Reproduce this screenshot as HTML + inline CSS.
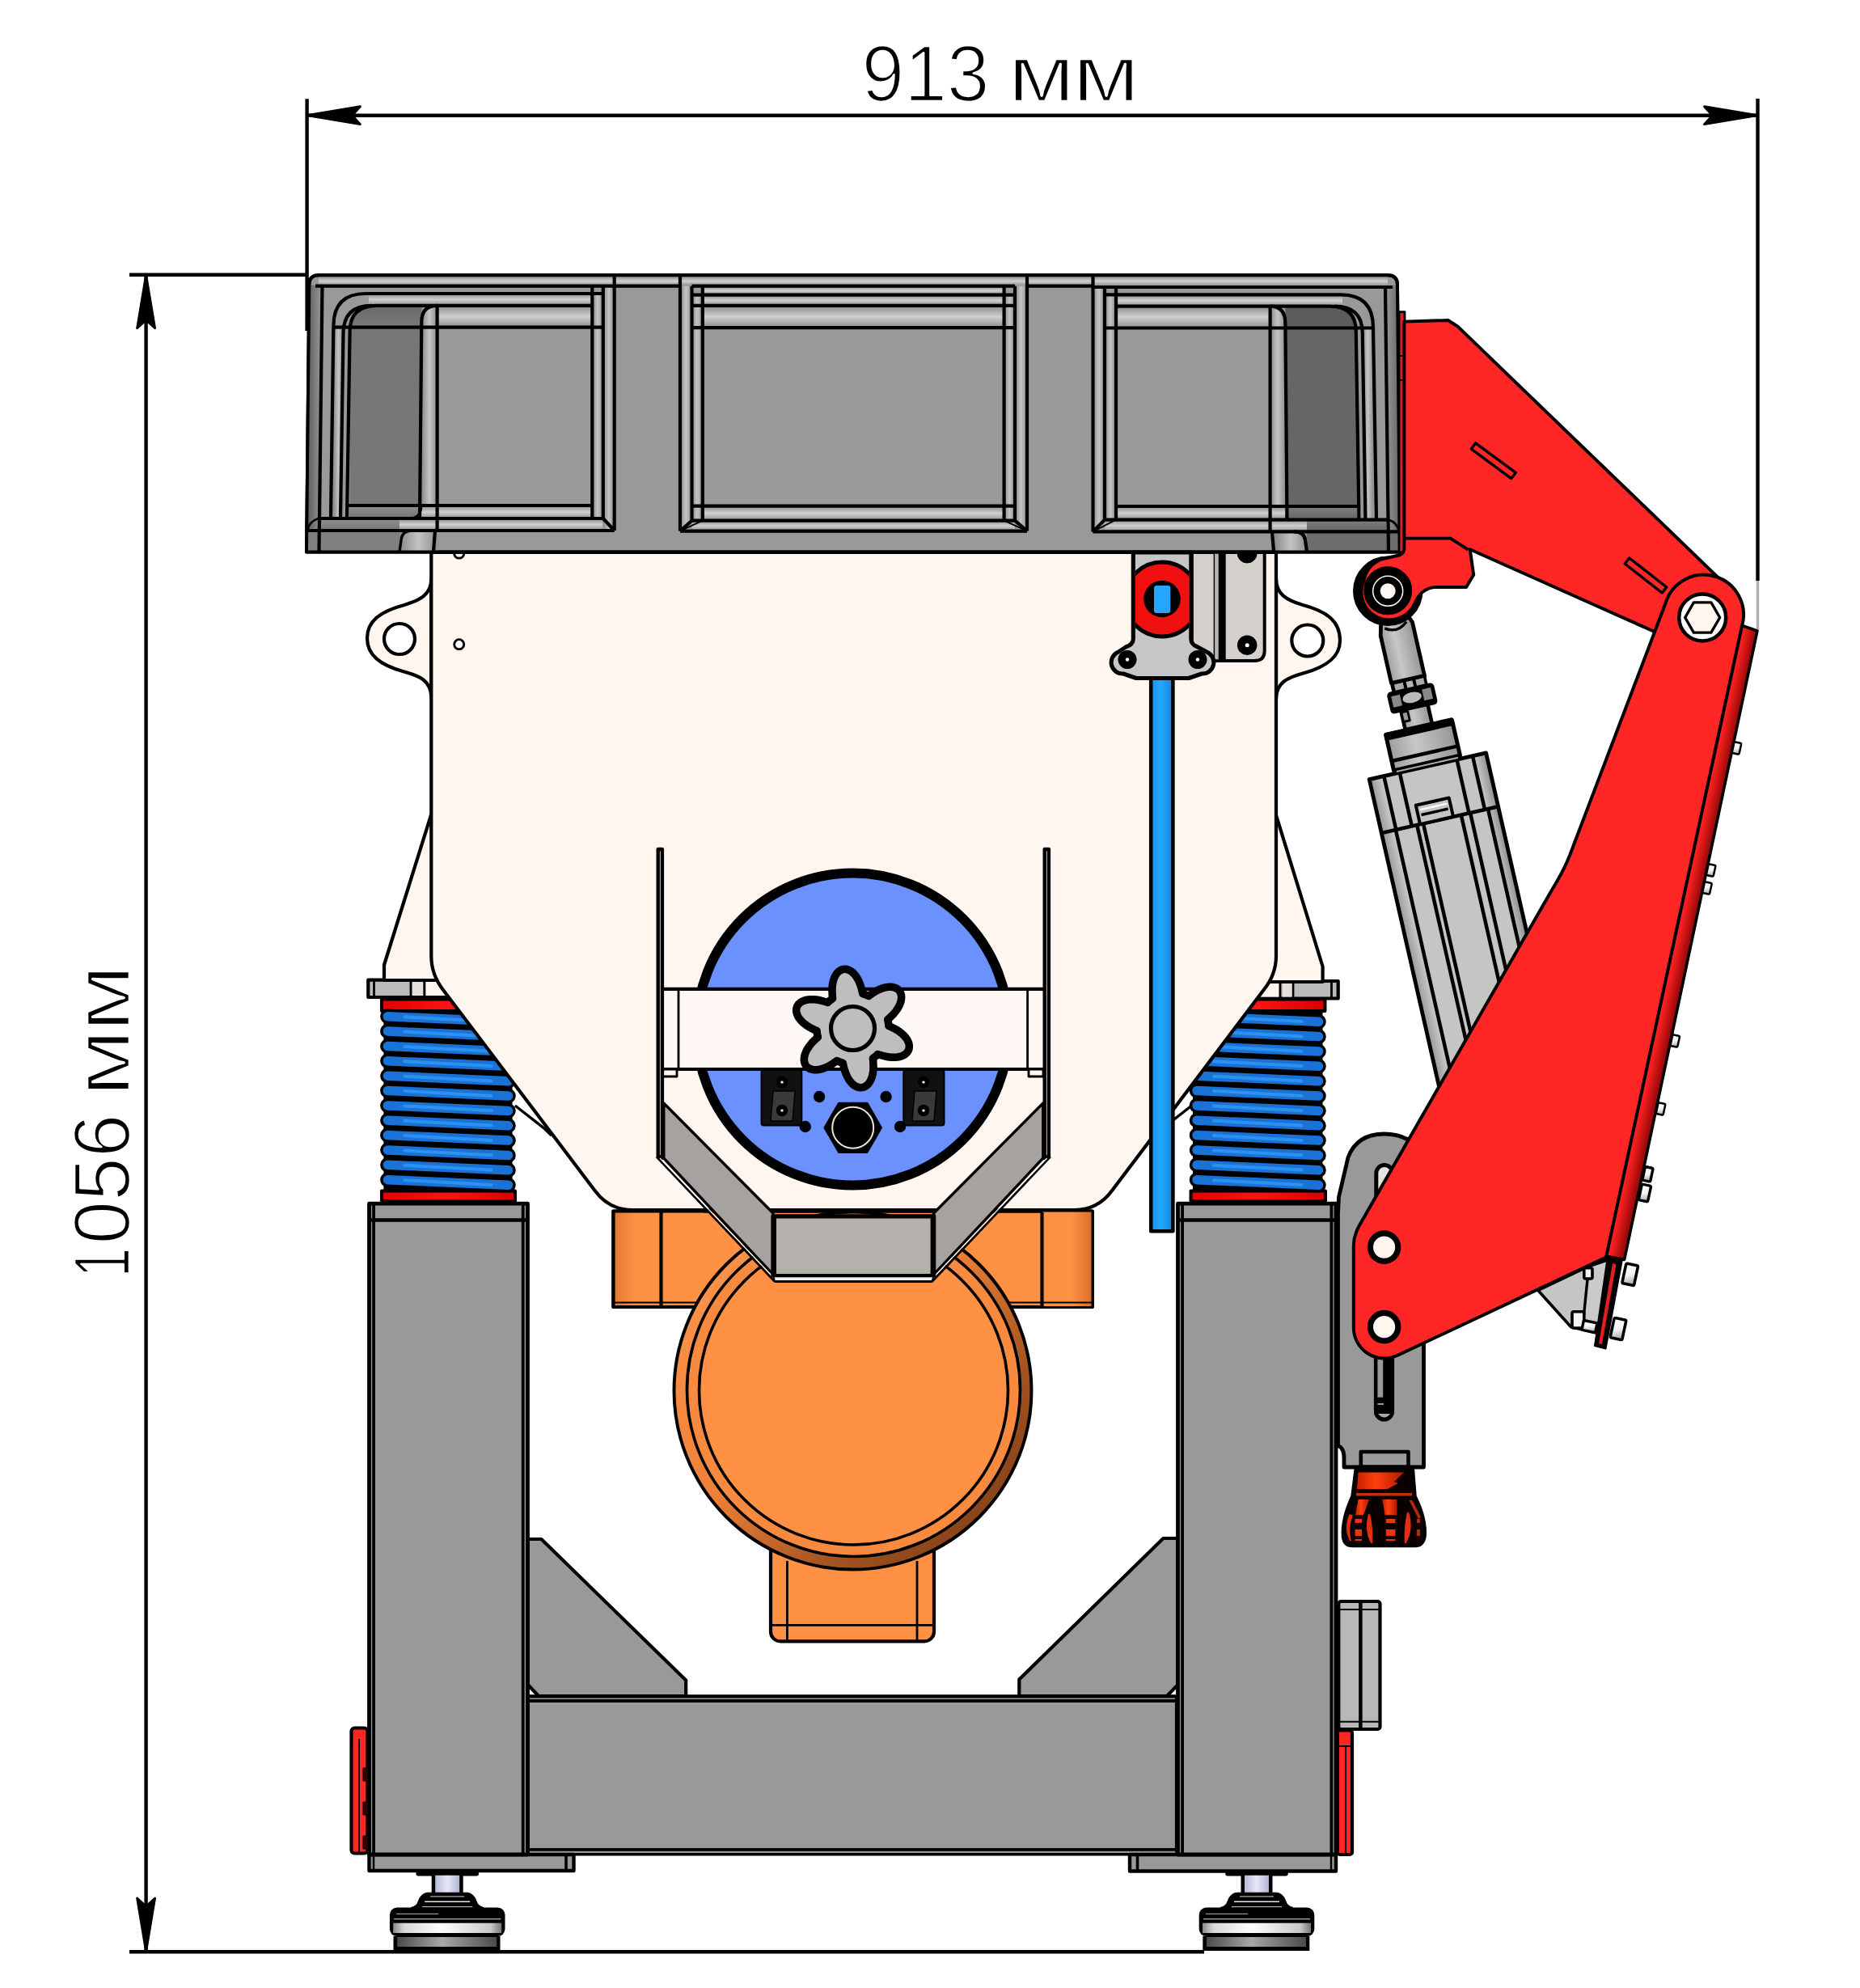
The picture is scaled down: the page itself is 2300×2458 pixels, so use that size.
<!DOCTYPE html>
<html lang="ru"><head><meta charset="utf-8"><title>913 мм × 1056 мм</title><style>html,body{margin:0;padding:0;background:#fff}body{width:2300px;height:2458px;overflow:hidden}svg{display:block}text{font-family:"Liberation Sans",sans-serif;fill:#000}</style></head><body>
<svg width="2300" height="2458" viewBox="0 0 2300 2458" stroke-linejoin="round" stroke-linecap="butt"><defs><linearGradient id="gH" x1="0" y1="0" x2="0" y2="1" gradientUnits="objectBoundingBox"><stop offset="0" stop-color="#8a8a8a"/><stop offset="0.5" stop-color="#cfcfcf"/><stop offset="1" stop-color="#8f8f8f"/></linearGradient><linearGradient id="gV" x1="0" y1="0" x2="1" y2="0" gradientUnits="objectBoundingBox"><stop offset="0" stop-color="#8a8a8a"/><stop offset="0.5" stop-color="#c4c4c4"/><stop offset="1" stop-color="#8f8f8f"/></linearGradient><linearGradient id="gDarkTop" x1="0" y1="0" x2="0" y2="1" gradientUnits="objectBoundingBox"><stop offset="0" stop-color="#6a6a6a"/><stop offset="1" stop-color="#7c7c7c"/></linearGradient><linearGradient id="gEdgeL" x1="0" y1="0" x2="1" y2="0" gradientUnits="objectBoundingBox"><stop offset="0" stop-color="#5e5e5e"/><stop offset="1" stop-color="#9a9a9a"/></linearGradient><linearGradient id="gEdgeR" x1="0" y1="0" x2="1" y2="0" gradientUnits="objectBoundingBox"><stop offset="0" stop-color="#9a9a9a"/><stop offset="1" stop-color="#666"/></linearGradient><linearGradient id="gOrFoot" x1="0" y1="0" x2="1" y2="0" gradientUnits="objectBoundingBox"><stop offset="0" stop-color="#E07A30"/><stop offset="0.25" stop-color="#FF9144"/><stop offset="1" stop-color="#FF9144"/></linearGradient><linearGradient id="gOrFootR" x1="0" y1="0" x2="1" y2="0" gradientUnits="objectBoundingBox"><stop offset="0" stop-color="#FF9144"/><stop offset="0.6" stop-color="#FF9144"/><stop offset="1" stop-color="#D9702A"/></linearGradient><linearGradient id="gTube" x1="0" y1="0" x2="1" y2="0" gradientUnits="objectBoundingBox"><stop offset="0" stop-color="#1690EE"/><stop offset="0.45" stop-color="#25AAFF"/><stop offset="1" stop-color="#0E86E0"/></linearGradient><linearGradient id="gRedRing" x1="0" y1="0" x2="1" y2="0" gradientUnits="objectBoundingBox"><stop offset="0" stop-color="#E00000"/><stop offset="0.5" stop-color="#FF1212"/><stop offset="1" stop-color="#D80000"/></linearGradient><linearGradient id="gCyl" x1="0" y1="0" x2="1" y2="0" gradientUnits="objectBoundingBox"><stop offset="0" stop-color="#9c9e9c"/><stop offset="0.4" stop-color="#c6c8c6"/><stop offset="1" stop-color="#949694"/></linearGradient><linearGradient id="gDisk" x1="0" y1="0" x2="1" y2="0" gradientUnits="objectBoundingBox"><stop offset="0" stop-color="#8a8a8a"/><stop offset="0.1" stop-color="#d8d8d8"/><stop offset="0.45" stop-color="#fff"/><stop offset="0.9" stop-color="#c8c8c8"/><stop offset="1" stop-color="#777"/></linearGradient><linearGradient id="gDisk2" x1="0" y1="0" x2="1" y2="0" gradientUnits="objectBoundingBox"><stop offset="0" stop-color="#4a4a4a"/><stop offset="0.45" stop-color="#a8a8a8"/><stop offset="1" stop-color="#4a4a4a"/></linearGradient><linearGradient id="gStud" x1="0" y1="0" x2="1" y2="0" gradientUnits="objectBoundingBox"><stop offset="0" stop-color="#b8bcd8"/><stop offset="0.5" stop-color="#e6e8fa"/><stop offset="1" stop-color="#b0b4d0"/></linearGradient><linearGradient id="gPanel" x1="0" y1="0" x2="1" y2="0" gradientUnits="objectBoundingBox"><stop offset="0" stop-color="#FF2626"/><stop offset="1" stop-color="#D81414"/></linearGradient><linearGradient id="gKnob" x1="0" y1="0" x2="1" y2="0" gradientUnits="objectBoundingBox"><stop offset="0" stop-color="#C82000"/><stop offset="0.4" stop-color="#FF4010"/><stop offset="1" stop-color="#B01800"/></linearGradient><linearGradient id="gRim" x1="0" y1="0" x2="1" y2="1" gradientUnits="objectBoundingBox"><stop offset="0" stop-color="#FF9A50"/><stop offset="0.45" stop-color="#EE8038"/><stop offset="0.72" stop-color="#A0521F"/><stop offset="1" stop-color="#6E3510"/></linearGradient><linearGradient id="gDk1" x1="0" y1="0" x2="0" y2="1" gradientUnits="objectBoundingBox"><stop offset="0" stop-color="#8e8e8e"/><stop offset="1" stop-color="#747474"/></linearGradient><linearGradient id="gDk3" x1="0" y1="0" x2="0" y2="1" gradientUnits="objectBoundingBox"><stop offset="0" stop-color="#7e7e7e"/><stop offset="1" stop-color="#646464"/></linearGradient><linearGradient id="gCylB" x1="0" y1="0" x2="1" y2="0" gradientUnits="objectBoundingBox"><stop offset="0" stop-color="#969896"/><stop offset="0.1" stop-color="#C4C6C4"/><stop offset="0.9" stop-color="#C4C6C4"/><stop offset="1" stop-color="#8c8e8c"/></linearGradient><linearGradient id="gPanel2" x1="2150" y1="772" x2="2171.5" y2="776.6" gradientUnits="userSpaceOnUse"><stop offset="0" stop-color="#FF2626"/><stop offset="0.4" stop-color="#F21E1E"/><stop offset="1" stop-color="#A00A0A"/></linearGradient><linearGradient id="gBolt" x1="0" y1="0" x2="0.3" y2="1" gradientUnits="objectBoundingBox"><stop offset="0" stop-color="#fff"/><stop offset="0.6" stop-color="#f4f4f4"/><stop offset="1" stop-color="#b8b8b8"/></linearGradient></defs>
<rect x="758.5" y="1497.5" width="592.2" height="118.5" rx="0" fill="#FF9144" stroke="#000" stroke-width="4.2" />
<rect x="758.5" y="1497.5" width="111.5" height="118.5" rx="0" fill="url(#gOrFoot)" stroke="none" stroke-width="0" />
<rect x="758.5" y="1497.5" width="592.2" height="118.5" rx="0" fill="none" stroke="#000" stroke-width="4.2" />
<line x1="817.5" y1="1499" x2="817.5" y2="1616" stroke="#000" stroke-width="4.2"/>
<line x1="758.5" y1="1610.5" x2="870" y2="1610.5" stroke="#000" stroke-width="2"/>
<rect x="1289" y="1498.5" width="60.5" height="116.5" rx="0" fill="url(#gOrFootR)" stroke="none" stroke-width="0" />
<line x1="1288.5" y1="1499" x2="1288.5" y2="1616" stroke="#000" stroke-width="4.2"/>
<line x1="1239" y1="1610.5" x2="1350.7" y2="1610.5" stroke="#000" stroke-width="2"/>
<rect x="953" y="1900" width="202" height="129.4" rx="12" fill="#FF9144" stroke="#000" stroke-width="4.2" />
<line x1="973.4" y1="1930" x2="973.4" y2="2028" stroke="#000" stroke-width="2.82"/>
<line x1="1134" y1="1930" x2="1134" y2="2028" stroke="#000" stroke-width="2.82"/>
<line x1="955" y1="2009.3" x2="1153" y2="2009.3" stroke="#000" stroke-width="2.82"/>
<circle cx="1054.5" cy="1719.5" r="221" fill="url(#gRim)" stroke="#000" stroke-width="3.95" />
<circle cx="1055.5" cy="1718.5" r="206" fill="#F88A40" stroke="#000" stroke-width="3.62" />
<circle cx="1055.5" cy="1719" r="191" fill="#FF9144" stroke="#000" stroke-width="3.62" />
<polygon points="652.8,1903 669.4,1903 848.2,2077.5 848.2,2097 666,2097 652.8,2083" fill="#999999" stroke="#000" stroke-width="4.2" />
<polygon points="1456.5,1902 1438.5,1902 1260.3,2076.5 1260.3,2097 1443,2097 1456.5,2083" fill="#999999" stroke="#000" stroke-width="4.2" />
<rect x="652.8" y="2097.4" width="802.2" height="189.6" rx="0" fill="#999999" stroke="#000" stroke-width="4.2" />
<line x1="652.8" y1="2103" x2="1455" y2="2103" stroke="#000" stroke-width="3.8"/>
<rect x="652.8" y="2287" width="802.2" height="5.8" rx="0" fill="#999999" stroke="#000" stroke-width="3.6" />
<rect x="456.5" y="2293" width="253" height="20" rx="0" fill="#999999" stroke="#000" stroke-width="4.4" />
<line x1="700" y1="2293" x2="700" y2="2313" stroke="#000" stroke-width="3.6"/>
<line x1="462" y1="2293" x2="462" y2="2313" stroke="#000" stroke-width="2.5"/>
<rect x="1397" y="2293" width="255" height="20.5" rx="0" fill="#999999" stroke="#000" stroke-width="4.4" />
<line x1="1406.5" y1="2293" x2="1406.5" y2="2313.5" stroke="#000" stroke-width="3.6"/>
<line x1="1646" y1="2293" x2="1646" y2="2313.5" stroke="#000" stroke-width="2.5"/>
<rect x="456.5" y="1488.2" width="196" height="804.8" rx="0" fill="#999999" stroke="#000" stroke-width="4.8" />
<line x1="462.1" y1="1486.5" x2="462.1" y2="2293" stroke="#000" stroke-width="3.8"/>
<line x1="646.7" y1="1486.5" x2="646.7" y2="2293" stroke="#000" stroke-width="3.8"/>
<line x1="456.5" y1="1508.5" x2="652.5" y2="1508.5" stroke="#000" stroke-width="4.4"/>
<rect x="1456.5" y="1488.2" width="195.5" height="804.8" rx="0" fill="#999999" stroke="#000" stroke-width="4.8" />
<line x1="1462.1" y1="1486.5" x2="1462.1" y2="2293" stroke="#000" stroke-width="3.8"/>
<line x1="1646.4" y1="1486.5" x2="1646.4" y2="2293" stroke="#000" stroke-width="3.8"/>
<line x1="1456.5" y1="1508.5" x2="1652" y2="1508.5" stroke="#000" stroke-width="4.4"/>
<rect x="515.2" y="2314.6" width="76" height="4.1" rx="2" fill="#000" stroke="#000" stroke-width="1.5" />
<rect x="533.7" y="2318.7" width="39" height="21.5" rx="0" fill="#000" stroke="none" stroke-width="0" />
<rect x="538.2" y="2318.7" width="30" height="21.5" rx="0" fill="url(#gStud)" stroke="none" stroke-width="0" />
<path d="M528.7,2340.2 L577.7,2340.2 Q586.2,2341 589.2,2351 Q591.2,2357 598.2,2358.5 L508.2,2358.5 Q515.2,2357 517.2,2351 Q520.2,2341 528.7,2340.2 Z" fill="#000" stroke="#000" stroke-width="1" />
<line x1="532.2" y1="2344.8" x2="574.2" y2="2344.8" stroke="#aaa" stroke-width="1.2"/>
<line x1="525.2" y1="2351.2" x2="581.2" y2="2351.2" stroke="#e8e8e8" stroke-width="1.6"/>
<line x1="522.2" y1="2357.6" x2="584.2" y2="2357.6" stroke="#bbb" stroke-width="1.2"/>
<rect x="481.9" y="2358.5" width="142.6" height="35.6" rx="9" fill="#000" stroke="none" stroke-width="0" />
<line x1="490.2" y1="2366.3" x2="542.2" y2="2366.3" stroke="#ccc" stroke-width="0.9"/>
<line x1="487.2" y1="2372.7" x2="619.2" y2="2372.7" stroke="#ddd" stroke-width="1.1"/>
<rect x="486.2" y="2377.7" width="134" height="12.3" rx="0" fill="url(#gDisk)" stroke="none" stroke-width="0" />
<rect x="486.5" y="2394" width="132" height="18" rx="0" fill="#000" stroke="none" stroke-width="0" />
<rect x="491.2" y="2395" width="123" height="12" rx="0" fill="url(#gDisk2)" stroke="none" stroke-width="0" />
<rect x="1516" y="2314.6" width="76" height="4.1" rx="2" fill="#000" stroke="#000" stroke-width="1.5" />
<rect x="1534.5" y="2318.7" width="39" height="21.5" rx="0" fill="#000" stroke="none" stroke-width="0" />
<rect x="1539" y="2318.7" width="30" height="21.5" rx="0" fill="url(#gStud)" stroke="none" stroke-width="0" />
<path d="M1529.5,2340.2 L1578.5,2340.2 Q1587,2341 1590,2351 Q1592,2357 1599,2358.5 L1509,2358.5 Q1516,2357 1518,2351 Q1521,2341 1529.5,2340.2 Z" fill="#000" stroke="#000" stroke-width="1" />
<line x1="1533" y1="2344.8" x2="1575" y2="2344.8" stroke="#aaa" stroke-width="1.2"/>
<line x1="1526" y1="2351.2" x2="1582" y2="2351.2" stroke="#e8e8e8" stroke-width="1.6"/>
<line x1="1523" y1="2357.6" x2="1585" y2="2357.6" stroke="#bbb" stroke-width="1.2"/>
<rect x="1482.7" y="2358.5" width="142.6" height="35.6" rx="9" fill="#000" stroke="none" stroke-width="0" />
<line x1="1491" y1="2366.3" x2="1543" y2="2366.3" stroke="#ccc" stroke-width="0.9"/>
<line x1="1488" y1="2372.7" x2="1620" y2="2372.7" stroke="#ddd" stroke-width="1.1"/>
<rect x="1487" y="2377.7" width="134" height="12.3" rx="0" fill="url(#gDisk)" stroke="none" stroke-width="0" />
<rect x="1487.3" y="2394" width="132" height="18" rx="0" fill="#000" stroke="none" stroke-width="0" />
<rect x="1492" y="2395" width="123" height="12" rx="0" fill="url(#gDisk2)" stroke="none" stroke-width="0" />
<rect x="434.5" y="2136.5" width="20" height="155" rx="4" fill="#FF2626" stroke="#000" stroke-width="4.2" />
<line x1="444" y1="2150" x2="444" y2="2291" stroke="#000" stroke-width="2"/>
<rect x="449" y="2186" width="6" height="16" rx="0" fill="#300" stroke="#000" stroke-width="1" />
<rect x="449" y="2228" width="6" height="16" rx="0" fill="#300" stroke="#000" stroke-width="1" />
<rect x="449" y="2270" width="6" height="16" rx="0" fill="#300" stroke="#000" stroke-width="1" />
<rect x="1653.8" y="2139.5" width="18.2" height="153.5" rx="3" fill="#FF2626" stroke="#000" stroke-width="4.2" />
<line x1="1664" y1="2159" x2="1664" y2="2293" stroke="#000" stroke-width="2"/>
<line x1="1654" y1="2159" x2="1672" y2="2159" stroke="#000" stroke-width="2"/>
<rect x="1655.3" y="1980" width="51.2" height="158" rx="3" fill="#B8B8B8" stroke="#000" stroke-width="4.2" />
<line x1="1682.4" y1="1980" x2="1682.4" y2="2138" stroke="#000" stroke-width="4.52"/>
<line x1="1655" y1="1990" x2="1706" y2="1990" stroke="#000" stroke-width="2"/>
<line x1="1655" y1="2128.8" x2="1706" y2="2128.8" stroke="#000" stroke-width="2"/>
<g>
<rect x="471.9" y="1235.5" width="164.6" height="14.5" rx="0" fill="url(#gRedRing)" stroke="#000" stroke-width="3.95" />
<rect x="471.9" y="1472.5" width="165.1" height="12.5" rx="0" fill="url(#gRedRing)" stroke="#000" stroke-width="3.95" />
<rect x="474.4" y="1250" width="159.1" height="222" rx="0" fill="#000" stroke="none" stroke-width="0" />
<line x1="479.4" y1="1256.8" x2="628.5" y2="1263.3" stroke="#000" stroke-width="18.5" stroke-linecap="round"/>
<line x1="479.4" y1="1275.1" x2="628.5" y2="1281.6" stroke="#000" stroke-width="18.5" stroke-linecap="round"/>
<line x1="479.4" y1="1293.5" x2="628.5" y2="1300" stroke="#000" stroke-width="18.5" stroke-linecap="round"/>
<line x1="479.4" y1="1311.8" x2="628.5" y2="1318.3" stroke="#000" stroke-width="18.5" stroke-linecap="round"/>
<line x1="479.4" y1="1330.2" x2="628.5" y2="1336.7" stroke="#000" stroke-width="18.5" stroke-linecap="round"/>
<line x1="479.4" y1="1348.5" x2="628.5" y2="1355" stroke="#000" stroke-width="18.5" stroke-linecap="round"/>
<line x1="479.4" y1="1366.9" x2="628.5" y2="1373.4" stroke="#000" stroke-width="18.5" stroke-linecap="round"/>
<line x1="479.4" y1="1385.2" x2="628.5" y2="1391.8" stroke="#000" stroke-width="18.5" stroke-linecap="round"/>
<line x1="479.4" y1="1403.6" x2="628.5" y2="1410.1" stroke="#000" stroke-width="18.5" stroke-linecap="round"/>
<line x1="479.4" y1="1422" x2="628.5" y2="1428.5" stroke="#000" stroke-width="18.5" stroke-linecap="round"/>
<line x1="479.4" y1="1440.3" x2="628.5" y2="1446.8" stroke="#000" stroke-width="18.5" stroke-linecap="round"/>
<line x1="479.4" y1="1458.7" x2="628.5" y2="1465.2" stroke="#000" stroke-width="18.5" stroke-linecap="round"/>
<line x1="479.4" y1="1256.8" x2="628.5" y2="1263.3" stroke="#1B72D6" stroke-width="11.5" stroke-linecap="round"/>
<line x1="500.4" y1="1257.3" x2="607.5" y2="1263.1" stroke="#2C92F2" stroke-width="4" stroke-linecap="round"/>
<line x1="479.4" y1="1275.1" x2="628.5" y2="1281.6" stroke="#1B72D6" stroke-width="11.5" stroke-linecap="round"/>
<line x1="500.4" y1="1275.6" x2="607.5" y2="1281.4" stroke="#2C92F2" stroke-width="4" stroke-linecap="round"/>
<line x1="479.4" y1="1293.5" x2="628.5" y2="1300" stroke="#1B72D6" stroke-width="11.5" stroke-linecap="round"/>
<line x1="500.4" y1="1294" x2="607.5" y2="1299.8" stroke="#2C92F2" stroke-width="4" stroke-linecap="round"/>
<line x1="479.4" y1="1311.8" x2="628.5" y2="1318.3" stroke="#1B72D6" stroke-width="11.5" stroke-linecap="round"/>
<line x1="500.4" y1="1312.3" x2="607.5" y2="1318.1" stroke="#2C92F2" stroke-width="4" stroke-linecap="round"/>
<line x1="479.4" y1="1330.2" x2="628.5" y2="1336.7" stroke="#1B72D6" stroke-width="11.5" stroke-linecap="round"/>
<line x1="500.4" y1="1330.7" x2="607.5" y2="1336.5" stroke="#2C92F2" stroke-width="4" stroke-linecap="round"/>
<line x1="479.4" y1="1348.5" x2="628.5" y2="1355" stroke="#1B72D6" stroke-width="11.5" stroke-linecap="round"/>
<line x1="500.4" y1="1349" x2="607.5" y2="1354.8" stroke="#2C92F2" stroke-width="4" stroke-linecap="round"/>
<line x1="479.4" y1="1366.9" x2="628.5" y2="1373.4" stroke="#1B72D6" stroke-width="11.5" stroke-linecap="round"/>
<line x1="500.4" y1="1367.4" x2="607.5" y2="1373.2" stroke="#2C92F2" stroke-width="4" stroke-linecap="round"/>
<line x1="479.4" y1="1385.2" x2="628.5" y2="1391.8" stroke="#1B72D6" stroke-width="11.5" stroke-linecap="round"/>
<line x1="500.4" y1="1385.8" x2="607.5" y2="1391.5" stroke="#2C92F2" stroke-width="4" stroke-linecap="round"/>
<line x1="479.4" y1="1403.6" x2="628.5" y2="1410.1" stroke="#1B72D6" stroke-width="11.5" stroke-linecap="round"/>
<line x1="500.4" y1="1404.1" x2="607.5" y2="1409.9" stroke="#2C92F2" stroke-width="4" stroke-linecap="round"/>
<line x1="479.4" y1="1422" x2="628.5" y2="1428.5" stroke="#1B72D6" stroke-width="11.5" stroke-linecap="round"/>
<line x1="500.4" y1="1422.5" x2="607.5" y2="1428.2" stroke="#2C92F2" stroke-width="4" stroke-linecap="round"/>
<line x1="479.4" y1="1440.3" x2="628.5" y2="1446.8" stroke="#1B72D6" stroke-width="11.5" stroke-linecap="round"/>
<line x1="500.4" y1="1440.8" x2="607.5" y2="1446.6" stroke="#2C92F2" stroke-width="4" stroke-linecap="round"/>
<line x1="479.4" y1="1458.7" x2="628.5" y2="1465.2" stroke="#1B72D6" stroke-width="11.5" stroke-linecap="round"/>
<line x1="500.4" y1="1459.2" x2="607.5" y2="1465" stroke="#2C92F2" stroke-width="4" stroke-linecap="round"/>
</g>
<g>
<rect x="1472.5" y="1235.5" width="166" height="14.5" rx="0" fill="url(#gRedRing)" stroke="#000" stroke-width="3.95" />
<rect x="1472.5" y="1472.5" width="166.5" height="12.5" rx="0" fill="url(#gRedRing)" stroke="#000" stroke-width="3.95" />
<rect x="1475" y="1250" width="160.5" height="222" rx="0" fill="#000" stroke="none" stroke-width="0" />
<line x1="1480" y1="1256.8" x2="1630.5" y2="1263.3" stroke="#000" stroke-width="18.5" stroke-linecap="round"/>
<line x1="1480" y1="1275.1" x2="1630.5" y2="1281.6" stroke="#000" stroke-width="18.5" stroke-linecap="round"/>
<line x1="1480" y1="1293.5" x2="1630.5" y2="1300" stroke="#000" stroke-width="18.5" stroke-linecap="round"/>
<line x1="1480" y1="1311.8" x2="1630.5" y2="1318.3" stroke="#000" stroke-width="18.5" stroke-linecap="round"/>
<line x1="1480" y1="1330.2" x2="1630.5" y2="1336.7" stroke="#000" stroke-width="18.5" stroke-linecap="round"/>
<line x1="1480" y1="1348.5" x2="1630.5" y2="1355" stroke="#000" stroke-width="18.5" stroke-linecap="round"/>
<line x1="1480" y1="1366.9" x2="1630.5" y2="1373.4" stroke="#000" stroke-width="18.5" stroke-linecap="round"/>
<line x1="1480" y1="1385.2" x2="1630.5" y2="1391.8" stroke="#000" stroke-width="18.5" stroke-linecap="round"/>
<line x1="1480" y1="1403.6" x2="1630.5" y2="1410.1" stroke="#000" stroke-width="18.5" stroke-linecap="round"/>
<line x1="1480" y1="1422" x2="1630.5" y2="1428.5" stroke="#000" stroke-width="18.5" stroke-linecap="round"/>
<line x1="1480" y1="1440.3" x2="1630.5" y2="1446.8" stroke="#000" stroke-width="18.5" stroke-linecap="round"/>
<line x1="1480" y1="1458.7" x2="1630.5" y2="1465.2" stroke="#000" stroke-width="18.5" stroke-linecap="round"/>
<line x1="1480" y1="1256.8" x2="1630.5" y2="1263.3" stroke="#1B72D6" stroke-width="11.5" stroke-linecap="round"/>
<line x1="1501" y1="1257.3" x2="1609.5" y2="1263.1" stroke="#2C92F2" stroke-width="4" stroke-linecap="round"/>
<line x1="1480" y1="1275.1" x2="1630.5" y2="1281.6" stroke="#1B72D6" stroke-width="11.5" stroke-linecap="round"/>
<line x1="1501" y1="1275.6" x2="1609.5" y2="1281.4" stroke="#2C92F2" stroke-width="4" stroke-linecap="round"/>
<line x1="1480" y1="1293.5" x2="1630.5" y2="1300" stroke="#1B72D6" stroke-width="11.5" stroke-linecap="round"/>
<line x1="1501" y1="1294" x2="1609.5" y2="1299.8" stroke="#2C92F2" stroke-width="4" stroke-linecap="round"/>
<line x1="1480" y1="1311.8" x2="1630.5" y2="1318.3" stroke="#1B72D6" stroke-width="11.5" stroke-linecap="round"/>
<line x1="1501" y1="1312.3" x2="1609.5" y2="1318.1" stroke="#2C92F2" stroke-width="4" stroke-linecap="round"/>
<line x1="1480" y1="1330.2" x2="1630.5" y2="1336.7" stroke="#1B72D6" stroke-width="11.5" stroke-linecap="round"/>
<line x1="1501" y1="1330.7" x2="1609.5" y2="1336.5" stroke="#2C92F2" stroke-width="4" stroke-linecap="round"/>
<line x1="1480" y1="1348.5" x2="1630.5" y2="1355" stroke="#1B72D6" stroke-width="11.5" stroke-linecap="round"/>
<line x1="1501" y1="1349" x2="1609.5" y2="1354.8" stroke="#2C92F2" stroke-width="4" stroke-linecap="round"/>
<line x1="1480" y1="1366.9" x2="1630.5" y2="1373.4" stroke="#1B72D6" stroke-width="11.5" stroke-linecap="round"/>
<line x1="1501" y1="1367.4" x2="1609.5" y2="1373.2" stroke="#2C92F2" stroke-width="4" stroke-linecap="round"/>
<line x1="1480" y1="1385.2" x2="1630.5" y2="1391.8" stroke="#1B72D6" stroke-width="11.5" stroke-linecap="round"/>
<line x1="1501" y1="1385.8" x2="1609.5" y2="1391.5" stroke="#2C92F2" stroke-width="4" stroke-linecap="round"/>
<line x1="1480" y1="1403.6" x2="1630.5" y2="1410.1" stroke="#1B72D6" stroke-width="11.5" stroke-linecap="round"/>
<line x1="1501" y1="1404.1" x2="1609.5" y2="1409.9" stroke="#2C92F2" stroke-width="4" stroke-linecap="round"/>
<line x1="1480" y1="1422" x2="1630.5" y2="1428.5" stroke="#1B72D6" stroke-width="11.5" stroke-linecap="round"/>
<line x1="1501" y1="1422.5" x2="1609.5" y2="1428.2" stroke="#2C92F2" stroke-width="4" stroke-linecap="round"/>
<line x1="1480" y1="1440.3" x2="1630.5" y2="1446.8" stroke="#1B72D6" stroke-width="11.5" stroke-linecap="round"/>
<line x1="1501" y1="1440.8" x2="1609.5" y2="1446.6" stroke="#2C92F2" stroke-width="4" stroke-linecap="round"/>
<line x1="1480" y1="1458.7" x2="1630.5" y2="1465.2" stroke="#1B72D6" stroke-width="11.5" stroke-linecap="round"/>
<line x1="1501" y1="1459.2" x2="1609.5" y2="1465" stroke="#2C92F2" stroke-width="4" stroke-linecap="round"/>
</g>
<rect x="455.3" y="1211.6" width="104.7" height="21.4" rx="0" fill="#BDBBB9" stroke="#000" stroke-width="4.2" />
<rect x="526.5" y="1213.5" width="33.5" height="17.5" rx="0" fill="#FFF6F0" stroke="none" stroke-width="0" />
<line x1="462.5" y1="1212" x2="462.5" y2="1233" stroke="#000" stroke-width="2.8"/>
<line x1="508" y1="1212" x2="508" y2="1233" stroke="#000" stroke-width="2.8"/>
<rect x="510" y="1213.5" width="13" height="17.5" rx="0" fill="#E2DFDC" stroke="none" stroke-width="0" />
<line x1="524.8" y1="1212" x2="524.8" y2="1233" stroke="#000" stroke-width="2.8"/>
<rect x="1550" y="1213" width="104.7" height="21.5" rx="0" fill="#BDBBB9" stroke="#000" stroke-width="4.2" />
<rect x="1550" y="1215" width="31.5" height="17.5" rx="0" fill="#FFF6F0" stroke="none" stroke-width="0" />
<line x1="1646.5" y1="1213" x2="1646.5" y2="1234" stroke="#000" stroke-width="2.8"/>
<line x1="1599" y1="1213" x2="1599" y2="1234" stroke="#000" stroke-width="2.8"/>
<rect x="1586" y="1215" width="11.5" height="17.5" rx="0" fill="#E2DFDC" stroke="none" stroke-width="0" />
<line x1="1583" y1="1213" x2="1583" y2="1234" stroke="#000" stroke-width="2.8"/>
<path d="M533.3,716 C533,735 520,742 500,748 C470,756 454,768 454,789 C454,810 470,822 498,830 C520,836 533,842 533.3,862 Z" fill="#FFF6F0" stroke="#000" stroke-width="4.2" />
<circle cx="494" cy="790" r="19" fill="#fff" stroke="#000" stroke-width="4.2" />
<path d="M1578,716 C1578.3,735 1591,742 1611,748 C1641,756 1657,768 1657,792 C1657,812 1641,824 1613,832 C1591,838 1578.3,844 1578,864 Z" fill="#FFF6F0" stroke="#000" stroke-width="4.2" />
<circle cx="1616.8" cy="792" r="19.5" fill="#fff" stroke="#000" stroke-width="4.2" />
<polygon points="533.3,1006.7 475,1193 475,1212 540,1212" fill="#FFF6F0" stroke="#000" stroke-width="4.2" />
<polygon points="1578,1008 1635.6,1195 1635.6,1214 1570,1214" fill="#FFF6F0" stroke="#000" stroke-width="4.2" />
<polyline points="637,1367 672.6,1394.8 682,1404" fill="none" stroke="#000" stroke-width="3.39" />
<polyline points="1473.6,1367 1438,1394.8 1428.6,1404" fill="none" stroke="#000" stroke-width="3.39" />
<path d="M533.3,683 L533.3,1182 Q533.3,1205 548,1224 L735.5,1472 Q753,1496 782,1496 L1328.6,1496 Q1357.6,1496 1375.1,1472 L1562.6,1224 Q1578,1205 1578,1182 L1578,683 Z" fill="#FFF6F0" stroke="#000" stroke-width="4.2" />
<circle cx="567.7" cy="796.7" r="6" fill="#fff" stroke="#000" stroke-width="2.82" />
<path d="M561.5,684 A6.2,6.2 0 0 0 573.9,684" fill="none" stroke="#000" stroke-width="2.82" />
<path d="M379,682.5 L382.3,352 Q382.3,340.2 394,340.2 L1716,340.2 Q1728,340.2 1728,352 L1731,682.5 Z" fill="#999999" stroke="#000" stroke-width="3.95" />
<rect x="394" y="341.5" width="1322" height="12.1" rx="0" fill="url(#gH)" stroke="none" stroke-width="0" />
<polygon points="383,352 398.5,353.6 394.5,682 380,682" fill="url(#gEdgeL)" stroke="none" stroke-width="0" />
<polygon points="1713,353.6 1727.8,352 1730.5,682 1717,682" fill="url(#gEdgeR)" stroke="none" stroke-width="0" />
<polygon points="380,656 494,656 494,682 379,682" fill="#808080" stroke="none" stroke-width="0" />
<polygon points="1616,657.4 1729,657.4 1730,682 1616,682" fill="#6c6c6c" stroke="none" stroke-width="0" />
<rect x="494" y="656" width="46.6" height="26" rx="0" fill="url(#gV)" stroke="none" stroke-width="0" />
<rect x="1576" y="657" width="40" height="25" rx="0" fill="url(#gV)" stroke="none" stroke-width="0" />
<path d="M432.6,625 L432.6,410 Q432.6,377.8 466,377.8 L540.6,377.8 L540.6,625 Z" fill="#777" stroke="none" stroke-width="0" />
<path d="M432.6,404.7 L432.6,410 Q432.6,377.8 466,377.8 L521.3,377.8 L521.3,404.7 Z" fill="url(#gDarkTop)" stroke="none" stroke-width="0" />
<rect x="521.3" y="377.8" width="19.3" height="263.2" rx="0" fill="url(#gV)" stroke="none" stroke-width="0" />
<rect x="540.6" y="377.8" width="191.7" height="26.9" rx="0" fill="url(#gH)" stroke="none" stroke-width="0" />
<rect x="456" y="363" width="276.3" height="14.8" rx="0" fill="url(#gH)" stroke="none" stroke-width="0" />
<rect x="432" y="625" width="300.3" height="16" rx="0" fill="url(#gH)" stroke="none" stroke-width="0" />
<rect x="400" y="641" width="345" height="15" rx="0" fill="url(#gH)" stroke="none" stroke-width="0" />
<rect x="732.3" y="363" width="13.5" height="278" rx="0" fill="url(#gV)" stroke="none" stroke-width="0" />
<rect x="745.8" y="353.6" width="13.9" height="302.4" rx="0" fill="url(#gV)" stroke="none" stroke-width="0" />
<rect x="412.4" y="405" width="12.1" height="236" rx="0" fill="url(#gV)" stroke="none" stroke-width="0" />
<rect x="432" y="626" width="89" height="15" rx="0" fill="url(#gDk1)" stroke="none" stroke-width="0" />
<rect x="396" y="642" width="98" height="14" rx="0" fill="url(#gDk1)" stroke="none" stroke-width="0" />
<path d="M409,641 L412.4,403 Q412.4,363 452.4,363 L745.8,363" fill="none" stroke="#000" stroke-width="4.2" />
<path d="M421,641 L424.5,412 Q424.5,377.8 460,377.8" fill="none" stroke="#000" stroke-width="4.2" />
<path d="M429,641 L432.6,410 Q432.6,377.8 466,377.8 L732.3,377.8" fill="none" stroke="#000" stroke-width="4.2" />
<path d="M519,641 L521.3,398 Q521.3,377.8 540.6,377.8" fill="none" stroke="#000" stroke-width="4.2" />
<line x1="540.6" y1="377.8" x2="540.6" y2="656" stroke="#000" stroke-width="4.2"/>
<line x1="412.4" y1="404.7" x2="745.8" y2="404.7" stroke="#000" stroke-width="4.2"/>
<line x1="430" y1="625" x2="732.3" y2="625" stroke="#000" stroke-width="4.2"/>
<line x1="393.6" y1="641" x2="745.8" y2="641" stroke="#000" stroke-width="4.2"/>
<line x1="379" y1="656" x2="759.7" y2="656" stroke="#000" stroke-width="4.2"/>
<line x1="732.3" y1="353.6" x2="732.3" y2="641" stroke="#000" stroke-width="4.2"/>
<line x1="745.8" y1="353.6" x2="745.8" y2="641" stroke="#000" stroke-width="4.2"/>
<line x1="745.8" y1="641" x2="759.7" y2="656" stroke="#000" stroke-width="4.2"/>
<line x1="759.7" y1="340.2" x2="759.7" y2="656" stroke="#000" stroke-width="4.2"/>
<line x1="390" y1="353.6" x2="759.7" y2="353.6" stroke="#000" stroke-width="4.2"/>
<path d="M398.5,353.6 L394.5,682" fill="none" stroke="#000" stroke-width="4.2" />
<path d="M393.6,641 Q382,645 380,656" fill="none" stroke="#000" stroke-width="2.82" />
<path d="M494,682 L496,668 Q497,656 510,656" fill="none" stroke="#000" stroke-width="3.39" />
<line x1="538" y1="656" x2="536" y2="682" stroke="#000" stroke-width="4.2"/>
<path d="M521,625 Q521,641 505,641" fill="none" stroke="#000" stroke-width="2.82" />
<rect x="868.8" y="353.7" width="372.8" height="10.9" rx="0" fill="url(#gH)" stroke="none" stroke-width="0" />
<rect x="868.8" y="364.6" width="372.8" height="13.2" rx="0" fill="url(#gH)" stroke="none" stroke-width="0" />
<rect x="868.8" y="377.8" width="372.8" height="27.4" rx="0" fill="url(#gH)" stroke="none" stroke-width="0" />
<rect x="868.8" y="625.6" width="372.8" height="18.1" rx="0" fill="url(#gH)" stroke="none" stroke-width="0" />
<rect x="855" y="643.7" width="400" height="12.9" rx="0" fill="url(#gH)" stroke="none" stroke-width="0" />
<rect x="841" y="353.7" width="14.5" height="302.3" rx="0" fill="url(#gV)" stroke="none" stroke-width="0" />
<rect x="855.5" y="364" width="13.3" height="279" rx="0" fill="url(#gV)" stroke="none" stroke-width="0" />
<rect x="1241.6" y="364" width="13.4" height="279" rx="0" fill="url(#gV)" stroke="none" stroke-width="0" />
<rect x="1255" y="353.7" width="15" height="302.3" rx="0" fill="url(#gV)" stroke="none" stroke-width="0" />
<line x1="855.5" y1="353.7" x2="1255" y2="353.7" stroke="#000" stroke-width="4.2"/>
<line x1="855.5" y1="364.6" x2="1255" y2="364.6" stroke="#000" stroke-width="4.2"/>
<line x1="855.5" y1="377.8" x2="1255" y2="377.8" stroke="#000" stroke-width="4.2"/>
<line x1="855.5" y1="405.2" x2="1255" y2="405.2" stroke="#000" stroke-width="4.2"/>
<line x1="855.5" y1="625.6" x2="1255" y2="625.6" stroke="#000" stroke-width="4.2"/>
<line x1="855.5" y1="643.7" x2="1255" y2="643.7" stroke="#000" stroke-width="4.2"/>
<line x1="841" y1="656.6" x2="1270" y2="656.6" stroke="#000" stroke-width="4.2"/>
<line x1="759.7" y1="353.7" x2="841" y2="353.7" stroke="#000" stroke-width="4.2"/>
<line x1="841" y1="340.2" x2="841" y2="656.6" stroke="#000" stroke-width="4.2"/>
<line x1="855.5" y1="353.7" x2="855.5" y2="643.7" stroke="#000" stroke-width="4.2"/>
<line x1="868.8" y1="353.7" x2="868.8" y2="643.7" stroke="#000" stroke-width="4.2"/>
<line x1="1241.6" y1="353.7" x2="1241.6" y2="643.7" stroke="#000" stroke-width="4.2"/>
<line x1="1255" y1="353.7" x2="1255" y2="643.7" stroke="#000" stroke-width="4.2"/>
<line x1="1270" y1="340.2" x2="1270" y2="656.6" stroke="#000" stroke-width="4.2"/>
<line x1="855.5" y1="643.7" x2="841" y2="656.6" stroke="#000" stroke-width="4.2"/>
<line x1="1255" y1="643.7" x2="1270" y2="656.6" stroke="#000" stroke-width="4.2"/>
<line x1="868.8" y1="643.7" x2="841" y2="656.6" stroke="#000" stroke-width="2"/>
<line x1="1241.6" y1="643.7" x2="1270" y2="656.6" stroke="#000" stroke-width="2"/>
<line x1="1270" y1="353.7" x2="1351.5" y2="353.7" stroke="#000" stroke-width="4.2"/>
<path d="M1570.6,378.6 L1644,378.6 Q1676.8,378.6 1676.8,410 L1680,626 L1570.6,626 Z" fill="#666" stroke="none" stroke-width="0" />
<path d="M1589.4,378.6 L1644,378.6 Q1676.8,378.6 1676.8,405.5 L1589.4,405.5 Z" fill="#5c5c5c" stroke="none" stroke-width="0" />
<rect x="1570.6" y="378.6" width="18.8" height="263.4" rx="0" fill="url(#gV)" stroke="none" stroke-width="0" />
<rect x="1380" y="378.6" width="190.6" height="26.9" rx="0" fill="url(#gH)" stroke="none" stroke-width="0" />
<rect x="1380" y="364.4" width="280" height="14.2" rx="0" fill="url(#gH)" stroke="none" stroke-width="0" />
<rect x="1380" y="626" width="303" height="16.6" rx="0" fill="url(#gH)" stroke="none" stroke-width="0" />
<rect x="1366" y="642.6" width="346" height="14.8" rx="0" fill="url(#gH)" stroke="none" stroke-width="0" />
<rect x="1351.5" y="355" width="14.5" height="302" rx="0" fill="url(#gV)" stroke="none" stroke-width="0" />
<rect x="1366" y="364.4" width="14" height="278.2" rx="0" fill="url(#gV)" stroke="none" stroke-width="0" />
<rect x="1684.8" y="405" width="13.2" height="237" rx="0" fill="url(#gV)" stroke="none" stroke-width="0" />
<rect x="1589.4" y="627" width="91.6" height="15.6" rx="0" fill="url(#gDk3)" stroke="none" stroke-width="0" />
<rect x="1616" y="643.5" width="98" height="13.9" rx="0" fill="url(#gDk3)" stroke="none" stroke-width="0" />
<path d="M1702,642.6 L1698,405 Q1698,364.4 1658,364.4 L1366,364.4" fill="none" stroke="#000" stroke-width="4.2" />
<path d="M1688.5,642.6 L1684.8,412 Q1684.8,378.6 1650,378.6" fill="none" stroke="#000" stroke-width="4.2" />
<path d="M1680.5,642.6 L1676.8,410 Q1676.8,378.6 1644,378.6 L1380,378.6" fill="none" stroke="#000" stroke-width="4.2" />
<path d="M1591.5,642.6 L1589.4,400 Q1589.4,378.6 1570.6,378.6" fill="none" stroke="#000" stroke-width="4.2" />
<line x1="1570.6" y1="378.6" x2="1570.6" y2="657.4" stroke="#000" stroke-width="4.2"/>
<line x1="1366" y1="405.5" x2="1698" y2="405.5" stroke="#000" stroke-width="4.2"/>
<line x1="1380" y1="626" x2="1682" y2="626" stroke="#000" stroke-width="4.2"/>
<line x1="1366" y1="642.6" x2="1717" y2="642.6" stroke="#000" stroke-width="4.2"/>
<line x1="1351.5" y1="657.4" x2="1730" y2="657.4" stroke="#000" stroke-width="4.2"/>
<line x1="1380" y1="355" x2="1380" y2="642.6" stroke="#000" stroke-width="4.2"/>
<line x1="1366" y1="355" x2="1366" y2="642.6" stroke="#000" stroke-width="4.2"/>
<line x1="1366" y1="642.6" x2="1351.5" y2="657.4" stroke="#000" stroke-width="4.2"/>
<line x1="1380" y1="642.6" x2="1351.5" y2="657.4" stroke="#000" stroke-width="2"/>
<line x1="1351.5" y1="340.2" x2="1351.5" y2="657.4" stroke="#000" stroke-width="4.2"/>
<line x1="1351.5" y1="355" x2="1722" y2="355" stroke="#000" stroke-width="4.2"/>
<path d="M1713,355 L1717,682" fill="none" stroke="#000" stroke-width="4.2" />
<path d="M1616,682 L1614,668 Q1613,657.4 1600,657.4" fill="none" stroke="#000" stroke-width="4.2" />
<line x1="1573" y1="657.4" x2="1575" y2="682" stroke="#000" stroke-width="4.2"/>
<path d="M1717,642.6 Q1728,646 1730,657.4" fill="none" stroke="#000" stroke-width="2.82" />
<path d="M379,682.5 L382.3,352 Q382.3,340.2 394,340.2 L1716,340.2 Q1728,340.2 1728,352 L1731,682.5 Z" fill="none" stroke="#000" stroke-width="3.95" />
<circle cx="1054.4" cy="1272.5" r="193" fill="#6B91FF" stroke="#000" stroke-width="12" />
<rect x="941.5" y="1323" width="49.8" height="68.5" rx="3" fill="#111" stroke="#000" stroke-width="2" />
<rect x="1117.3" y="1323" width="50.2" height="68.5" rx="3" fill="#111" stroke="#000" stroke-width="2" />
<polygon points="956,1349 983,1349 980,1386 953,1386" fill="#3a3a3a" stroke="#000" stroke-width="1.5" />
<circle cx="967" cy="1338" r="5" fill="#111" stroke="#000" stroke-width="4.52" />
<circle cx="967" cy="1338" r="1.6" fill="#fff" stroke="none" stroke-width="0" />
<circle cx="967" cy="1373" r="5" fill="#111" stroke="#000" stroke-width="4.52" />
<circle cx="967" cy="1373" r="1.6" fill="#fff" stroke="none" stroke-width="0" />
<polygon points="1131,1349 1158,1349 1155,1386 1128,1386" fill="#3a3a3a" stroke="#000" stroke-width="1.5" />
<circle cx="1142" cy="1338" r="5" fill="#111" stroke="#000" stroke-width="4.52" />
<circle cx="1142" cy="1338" r="1.6" fill="#fff" stroke="none" stroke-width="0" />
<circle cx="1142" cy="1373" r="5" fill="#111" stroke="#000" stroke-width="4.52" />
<circle cx="1142" cy="1373" r="1.6" fill="#fff" stroke="none" stroke-width="0" />
<circle cx="1013.1" cy="1356" r="7.2" fill="#000" stroke="#000" stroke-width="0" />
<circle cx="1095.6" cy="1356" r="7.2" fill="#000" stroke="#000" stroke-width="0" />
<circle cx="995.8" cy="1393" r="7.2" fill="#000" stroke="#000" stroke-width="0" />
<circle cx="1113" cy="1393" r="7.2" fill="#000" stroke="#000" stroke-width="0" />
<polygon points="1089.2,1394.3 1072,1424.2 1037.5,1424.2 1020.2,1394.3 1037.5,1364.4 1072,1364.4" fill="#000" stroke="#000" stroke-width="3.39" />
<circle cx="1054.7" cy="1394.3" r="25.5" fill="#000" stroke="#e8e4dc" stroke-width="2" />
<rect x="816" y="1222.9" width="477" height="99.1" rx="0" fill="#FFF8F4" stroke="#000" stroke-width="4.07" />
<line x1="839" y1="1222" x2="839" y2="1322" stroke="#000" stroke-width="2.82"/>
<line x1="1270.6" y1="1222" x2="1270.6" y2="1322" stroke="#000" stroke-width="2.82"/>
<rect x="819" y="1322" width="18" height="9" rx="0" fill="#FFF8F4" stroke="#000" stroke-width="2.82" />
<rect x="1272" y="1322" width="18" height="9" rx="0" fill="#FFF8F4" stroke="#000" stroke-width="2.82" />
<polygon points="1105.4,1271.5 1107.1,1272.4 1108.8,1273.4 1110.5,1274.4 1112.1,1275.5 1113.6,1276.7 1115.1,1277.9 1116.5,1279.1 1117.8,1280.4 1119,1281.7 1120.1,1283.1 1121.1,1284.4 1122,1285.8 1122.7,1287.2 1123.3,1288.7 1123.8,1290.1 1124.1,1291.5 1124.3,1292.8 1124.3,1294.2 1124.2,1295.5 1124,1296.8 1123.6,1298 1123.1,1299.2 1122.4,1300.3 1121.6,1301.4 1120.6,1302.3 1119.6,1303.2 1118.4,1304.1 1117.1,1304.8 1115.7,1305.4 1114.2,1306 1112.7,1306.5 1111,1306.8 1109.3,1307.1 1107.5,1307.3 1105.7,1307.3 1103.8,1307.3 1101.9,1307.2 1100,1307 1098,1306.8 1096.1,1306.4 1094.2,1306 1092.3,1305.5 1090.5,1305 1088.7,1304.5 1087,1304 1085.4,1303.5 1084.8,1304 1084.3,1304.6 1083.7,1305.1 1083.1,1305.6 1082.5,1306.1 1081.9,1306.6 1081.3,1307 1080.7,1307.5 1080,1308 1079.4,1308.4 1079.5,1310 1079.7,1311.8 1079.8,1313.7 1079.9,1315.6 1080,1317.5 1080,1319.5 1079.9,1321.4 1079.8,1323.4 1079.6,1325.3 1079.3,1327.2 1078.9,1329 1078.5,1330.8 1077.9,1332.5 1077.3,1334.1 1076.6,1335.7 1075.8,1337.1 1075,1338.5 1074.1,1339.7 1073.1,1340.8 1072,1341.8 1070.9,1342.6 1069.8,1343.3 1068.6,1343.9 1067.3,1344.3 1066.1,1344.6 1064.8,1344.7 1063.5,1344.7 1062.2,1344.5 1060.9,1344.2 1059.6,1343.7 1058.3,1343.1 1057,1342.4 1055.7,1341.5 1054.5,1340.5 1053.3,1339.4 1052.2,1338.1 1051.1,1336.7 1050,1335.3 1049.1,1333.7 1048.1,1332.1 1047.3,1330.4 1046.5,1328.6 1045.7,1326.8 1045.1,1325 1044.5,1323.1 1043.9,1321.3 1043.4,1319.4 1043,1317.6 1042.6,1315.8 1042.2,1314.3 1041.5,1314.1 1040.7,1313.8 1040,1313.6 1039.3,1313.3 1038.6,1313 1037.8,1312.8 1037.1,1312.5 1036.4,1312.2 1035.7,1311.8 1035,1311.5 1033.7,1312.4 1032.2,1313.4 1030.7,1314.5 1029.1,1315.6 1027.4,1316.6 1025.7,1317.6 1024,1318.5 1022.2,1319.3 1020.5,1320.1 1018.7,1320.8 1016.9,1321.4 1015.1,1321.9 1013.4,1322.3 1011.7,1322.6 1010,1322.7 1008.3,1322.8 1006.8,1322.7 1005.2,1322.5 1003.8,1322.2 1002.4,1321.8 1001.1,1321.3 999.9,1320.6 998.8,1319.9 997.9,1319 997,1318.1 996.2,1317 995.6,1315.9 995.1,1314.7 994.7,1313.4 994.5,1312 994.3,1310.6 994.4,1309.1 994.5,1307.6 994.8,1306 995.1,1304.4 995.7,1302.8 996.3,1301.2 997,1299.5 997.9,1297.9 998.8,1296.3 999.9,1294.7 1001,1293.1 1002.2,1291.6 1003.4,1290.1 1004.8,1288.6 1006.1,1287.2 1007.5,1285.9 1008.8,1284.6 1010.2,1283.4 1011.3,1282.3 1011.1,1281.5 1011,1280.8 1010.8,1280 1010.7,1279.2 1010.5,1278.5 1010.4,1277.7 1010.3,1276.9 1010.2,1276.2 1010.2,1275.4 1010.1,1274.6 1008.7,1273.9 1007,1273.2 1005.3,1272.4 1003.6,1271.5 1001.9,1270.6 1000.2,1269.6 998.5,1268.6 996.9,1267.5 995.4,1266.3 993.9,1265.1 992.5,1263.9 991.2,1262.6 990,1261.3 988.9,1259.9 987.9,1258.6 987,1257.2 986.3,1255.8 985.7,1254.3 985.2,1252.9 984.9,1251.5 984.7,1250.2 984.7,1248.8 984.8,1247.5 985,1246.2 985.4,1245 985.9,1243.8 986.6,1242.7 987.4,1241.6 988.4,1240.7 989.4,1239.8 990.6,1238.9 991.9,1238.2 993.3,1237.6 994.8,1237 996.3,1236.5 998,1236.2 999.7,1235.9 1001.5,1235.7 1003.3,1235.7 1005.2,1235.7 1007.1,1235.8 1009,1236 1011,1236.2 1012.9,1236.6 1014.8,1237 1016.7,1237.5 1018.5,1238 1020.3,1238.5 1022,1239 1023.6,1239.5 1024.2,1239 1024.7,1238.4 1025.3,1237.9 1025.9,1237.4 1026.5,1236.9 1027.1,1236.4 1027.7,1236 1028.3,1235.5 1029,1235 1029.6,1234.6 1029.5,1233 1029.3,1231.2 1029.2,1229.3 1029.1,1227.4 1029,1225.5 1029,1223.5 1029.1,1221.6 1029.2,1219.6 1029.4,1217.7 1029.7,1215.8 1030.1,1214 1030.5,1212.2 1031.1,1210.5 1031.7,1208.9 1032.4,1207.3 1033.2,1205.9 1034,1204.5 1034.9,1203.3 1035.9,1202.2 1037,1201.2 1038.1,1200.4 1039.2,1199.7 1040.4,1199.1 1041.7,1198.7 1042.9,1198.4 1044.2,1198.3 1045.5,1198.3 1046.8,1198.5 1048.1,1198.8 1049.4,1199.3 1050.7,1199.9 1052,1200.6 1053.3,1201.5 1054.5,1202.5 1055.7,1203.6 1056.8,1204.9 1057.9,1206.3 1059,1207.7 1059.9,1209.3 1060.9,1210.9 1061.7,1212.6 1062.5,1214.4 1063.3,1216.2 1063.9,1218 1064.5,1219.9 1065.1,1221.7 1065.6,1223.6 1066,1225.4 1066.4,1227.2 1066.8,1228.7 1067.5,1228.9 1068.3,1229.2 1069,1229.4 1069.7,1229.7 1070.4,1230 1071.2,1230.2 1071.9,1230.5 1072.6,1230.8 1073.3,1231.2 1074,1231.5 1075.3,1230.6 1076.8,1229.6 1078.3,1228.5 1079.9,1227.4 1081.6,1226.4 1083.3,1225.4 1085,1224.5 1086.8,1223.7 1088.5,1222.9 1090.3,1222.2 1092.1,1221.6 1093.9,1221.1 1095.6,1220.7 1097.3,1220.4 1099,1220.3 1100.7,1220.2 1102.2,1220.3 1103.8,1220.5 1105.2,1220.8 1106.6,1221.2 1107.9,1221.7 1109.1,1222.4 1110.2,1223.1 1111.1,1224 1112,1224.9 1112.8,1226 1113.4,1227.1 1113.9,1228.3 1114.3,1229.6 1114.5,1231 1114.7,1232.4 1114.6,1233.9 1114.5,1235.4 1114.2,1237 1113.9,1238.6 1113.3,1240.2 1112.7,1241.8 1112,1243.5 1111.1,1245.1 1110.2,1246.7 1109.1,1248.3 1108,1249.9 1106.8,1251.4 1105.6,1252.9 1104.2,1254.4 1102.9,1255.8 1101.5,1257.1 1100.2,1258.4 1098.8,1259.6 1097.7,1260.7 1097.9,1261.5 1098,1262.2 1098.2,1263 1098.3,1263.8 1098.5,1264.5 1098.6,1265.3 1098.7,1266.1 1098.8,1266.8 1098.8,1267.6 1098.9,1268.4 1100.3,1269.1 1102,1269.8 1103.7,1270.6" fill="#BEBEBE" stroke="#000" stroke-width="9.5" />
<circle cx="1054.5" cy="1271.5" r="27" fill="#BEBEBE" stroke="#000" stroke-width="5.2" />
<polygon points="813.7,1050 818.9,1050 818.9,1432 813.7,1429" fill="#FFF8F4" stroke="#000" stroke-width="4.41" />
<polygon points="820.8,1364 956,1500 956,1576 820.8,1432" fill="#A5A29F" stroke="#000" stroke-width="3.39" />
<polyline points="811.7,1430 958,1584.5" fill="none" stroke="#000" stroke-width="2.82" />
<polyline points="816,1432 957,1580" fill="none" stroke="#fff" stroke-width="1.2" />
<polygon points="1296.9,1050 1291.7,1050 1291.7,1432 1296.9,1429" fill="#FFF8F4" stroke="#000" stroke-width="4.41" />
<polygon points="1289.8,1364 1154.6,1500 1154.6,1576 1289.8,1432" fill="#A5A29F" stroke="#000" stroke-width="3.39" />
<polyline points="1298.9,1430 1152.6,1584.5" fill="none" stroke="#000" stroke-width="2.82" />
<polyline points="1294.6,1432 1153.6,1580" fill="none" stroke="#fff" stroke-width="1.2" />
<polygon points="956,1577 1154.6,1577 1152.6,1584.5 958,1584.5" fill="#eee" stroke="#000" stroke-width="2" />
<rect x="955.6" y="1503.6" width="199.4" height="73.4" rx="0" fill="#000" stroke="#000" stroke-width="4.52" />
<rect x="960" y="1506.5" width="190.6" height="68.5" rx="0" fill="#B4B1AD" stroke="none" stroke-width="0" />
<line x1="958" y1="1584.5" x2="1152.6" y2="1584.5" stroke="#000" stroke-width="2.82"/>
<rect x="1423.2" y="830" width="27.2" height="692.3" rx="0" fill="url(#gTube)" stroke="#000" stroke-width="4.5" />
<path d="M1473.8,683 L1563.7,683 L1563.7,805 Q1563.7,817 1551,817 L1473.8,817 Z" fill="#D3CFCB" stroke="#000" stroke-width="3.95" />
<rect x="1501.4" y="684" width="6.1" height="132" rx="0" fill="#b8b5b2" stroke="#000" stroke-width="1.5" />
<rect x="1507.5" y="684" width="8.2" height="133" rx="0" fill="#000" stroke="#000" stroke-width="0" />
<path d="M1530.2,684 A12,12 0 0 0 1554.2,684 Z" fill="#000" stroke="#000" stroke-width="1" />
<circle cx="1542.2" cy="797.7" r="10" fill="#000" stroke="#000" stroke-width="4.52" />
<circle cx="1542.2" cy="797.7" r="2.5" fill="#fff" stroke="#000" stroke-width="0" />
<path d="M1401.3,683 L1401.3,790 Q1401.3,797 1392,800 L1383,806 A14,14 0 0 0 1389,833 L1405,838.5 L1470,838.5 L1486,833 A14,14 0 0 0 1492,806 L1481,800 Q1472.8,797 1472.8,790 L1472.8,683 Z" fill="#C6C6C6" stroke="#000" stroke-width="5.08" />
<clipPath id="cKey"><rect x="1404" y="683" width="66.5" height="120"/></clipPath>
<g clip-path="url(#cKey)">
<circle cx="1437" cy="741" r="46" fill="#F01010" stroke="#000" stroke-width="5" />
</g>
<circle cx="1437" cy="740.5" r="20.5" fill="#000" stroke="#000" stroke-width="4.52" />
<rect x="1427" y="724" width="20.3" height="34" rx="3" fill="#25A5FF" stroke="#000" stroke-width="0" />
<circle cx="1394" cy="815.5" r="9" fill="#000" stroke="#000" stroke-width="5" />
<circle cx="1481" cy="815.5" r="9" fill="#000" stroke="#000" stroke-width="5" />
<circle cx="1394" cy="815.5" r="2.2" fill="#fff" stroke="#000" stroke-width="0" />
<circle cx="1481" cy="815.5" r="2.2" fill="#fff" stroke="#000" stroke-width="0" />
<path d="M1654.5,1500 L1655.5,1480 L1667,1431 Q1678,1402 1711.6,1402 Q1744,1402 1760.5,1428 L1760.5,1814 L1662,1814 L1662,1803 Q1662,1790 1654.5,1787.5 Z" fill="#999999" stroke="#000" stroke-width="4.8" />
<rect x="1701.8" y="1440.5" width="20.2" height="49.5" rx="10" fill="#E6E2DE" stroke="#000" stroke-width="5" />
<path d="M1701,1676 L1701,1745 A10.5,10.5 0 0 0 1722,1745 L1722,1676 Z" fill="#000" stroke="#000" stroke-width="4.2" />
<rect x="1703.4" y="1680" width="6.8" height="47.7" rx="0" fill="#999" stroke="none" stroke-width="0" />
<rect x="1703.4" y="1735" width="7.6" height="2" rx="0" fill="#999" stroke="none" stroke-width="0" />
<path d="M1704,1748 L1719,1748 Q1712,1757 1704,1748 Z" fill="#aaa" stroke="none" stroke-width="0" />
<rect x="1682.8" y="1795" width="58.7" height="18.6" rx="0" fill="#9a9a9a" stroke="#000" stroke-width="4.6" />
<path d="M1676.3,1816 L1747.3,1816 L1750,1850 Q1764,1878 1762,1900 Q1760,1911.5 1750,1911.5 L1672,1911.5 Q1662,1911.5 1660.5,1900 Q1659,1878 1672,1850 Z" fill="#0a0000" stroke="#000" stroke-width="3.5" />
<polygon points="1679.5,1820.5 1736,1820.5 1724,1832 1729,1834 1716,1841 1678,1841" fill="url(#gKnob)" stroke="none" stroke-width="0" />
<rect x="1677" y="1846" width="69" height="3.5" rx="0" fill="#C03010" stroke="none" stroke-width="0" />
<polygon points="1679.5,1854 1693.2,1854 1686,1873.2 1676,1873.2" fill="url(#gKnob)" stroke="none" stroke-width="0" />
<polygon points="1709.4,1854 1727.5,1854 1727.5,1873.2 1712.6,1873.2" fill="url(#gKnob)" stroke="none" stroke-width="0" />
<rect x="1675.5" y="1878" width="8.5" height="5" rx="0" fill="#E83410" stroke="none" stroke-width="0" />
<rect x="1713.8" y="1878" width="11.7" height="5" rx="0" fill="#E83410" stroke="none" stroke-width="0" />
<rect x="1752" y="1878" width="4" height="5" rx="0" fill="#B02810" stroke="none" stroke-width="0" />
<rect x="1675.5" y="1891" width="8.5" height="8" rx="0" fill="#E83410" stroke="none" stroke-width="0" />
<rect x="1713.8" y="1891" width="11.7" height="8" rx="0" fill="#E83410" stroke="none" stroke-width="0" />
<rect x="1752" y="1891" width="4" height="8" rx="0" fill="#B02810" stroke="none" stroke-width="0" />
<rect x="1675.5" y="1903" width="8.5" height="2" rx="0" fill="#E83410" stroke="none" stroke-width="0" />
<rect x="1713.8" y="1903" width="11.7" height="2" rx="0" fill="#E83410" stroke="none" stroke-width="0" />
<path d="M1669,1873 Q1662,1890 1670,1905 Q1666,1890 1672,1874 Z" fill="#E03010" stroke="#E03010" stroke-width="1.5" />
<path d="M1693,1873 Q1688,1892 1696,1907 Q1697,1890 1693,1873 Z" fill="#E03010" stroke="#E03010" stroke-width="2.5" />
<path d="M1741,1871 Q1747,1890 1738,1907 Q1737,1890 1741,1871 Z" fill="#E03010" stroke="#E03010" stroke-width="2.5" />
<polygon points="1742.5,1855 1746.5,1855 1757,1876 1754,1878" fill="#B02810" stroke="none" stroke-width="0" />
<g transform="translate(1716.2,730.8) rotate(-12.8)">
<rect x="-74" y="222" width="148" height="478" rx="0" fill="url(#gCylB)" stroke="#000" stroke-width="4.8" />
<line x1="-55.5" y1="222" x2="-55.5" y2="290" stroke="#000" stroke-width="4.5"/>
<line x1="-35.5" y1="222" x2="-35.5" y2="290" stroke="#000" stroke-width="4.5"/>
<line x1="37" y1="222" x2="37" y2="290" stroke="#000" stroke-width="4.5"/>
<line x1="57" y1="222" x2="57" y2="290" stroke="#000" stroke-width="4.5"/>
<line x1="-74" y1="290" x2="74" y2="290" stroke="#000" stroke-width="4.5"/>
<line x1="-56" y1="290" x2="-56" y2="700" stroke="#000" stroke-width="4.5"/>
<line x1="-29" y1="290" x2="-29" y2="700" stroke="#000" stroke-width="4.5"/>
<line x1="-21" y1="290" x2="-21" y2="700" stroke="#000" stroke-width="4.5"/>
<line x1="27" y1="290" x2="27" y2="700" stroke="#000" stroke-width="4.5"/>
<line x1="38.6" y1="290" x2="38.6" y2="700" stroke="#000" stroke-width="4.5"/>
<line x1="61" y1="290" x2="61" y2="700" stroke="#000" stroke-width="4.5"/>
<rect x="-25" y="266" width="42" height="24" rx="0" fill="#C4C6C4" stroke="#000" stroke-width="4" />
<line x1="-21" y1="272.5" x2="13" y2="272.5" stroke="#fff" stroke-width="2.2"/>
<line x1="-21" y1="279" x2="13" y2="279" stroke="#000" stroke-width="3.4"/>
<rect x="-42" y="173" width="84" height="45" rx="0" fill="url(#gCyl)" stroke="#000" stroke-width="5" />
<rect x="-42" y="171" width="84" height="8" rx="0" fill="#000" stroke="#000" stroke-width="2" />
<line x1="-42" y1="206" x2="42" y2="206" stroke="#000" stroke-width="4.6"/>
<rect x="-40" y="218" width="80" height="4" rx="0" fill="#aaa" stroke="#000" stroke-width="2" />
<rect x="-17" y="146" width="34" height="26" rx="0" fill="url(#gCyl)" stroke="#000" stroke-width="4.6" />
<rect x="-17" y="150" width="8" height="12" rx="0" fill="#999" stroke="#000" stroke-width="2.82" />
<rect x="-28" y="124" width="56" height="24" rx="3" fill="#000" stroke="#000" stroke-width="3.39" />
<rect x="-25" y="128" width="11" height="14" rx="0" fill="#888" stroke="#000" stroke-width="0" />
<rect x="14" y="128" width="11" height="14" rx="0" fill="#888" stroke="#000" stroke-width="0" />
<ellipse cx="0" cy="135" rx="12" ry="6.5" fill="#bbb"/>
<rect x="-21" y="111" width="42" height="14" rx="0" fill="#000" stroke="#000" stroke-width="3.39" />
<rect x="-18" y="114" width="11" height="8" rx="0" fill="#aaa" stroke="#000" stroke-width="0" />
<rect x="-3" y="114" width="8" height="8" rx="0" fill="#b5b5b5" stroke="#000" stroke-width="0" />
<rect x="9" y="114" width="10" height="8" rx="0" fill="#aaa" stroke="#000" stroke-width="0" />
<path d="M-21,52 L-17,36 L15,30 L21,44 L21,112 L-21,112 Z" fill="url(#gCyl)" stroke="#000" stroke-width="4.8" />
<path d="M-14,44 Q0,54 14,42" fill="none" stroke="#000" stroke-width="3.4" />
</g>
<circle cx="1716.2" cy="730.8" r="41.5" fill="#000" stroke="#000" stroke-width="3.39" />
<rect x="1730" y="385.6" width="7" height="297.4" rx="0" fill="#E02020" stroke="#000" stroke-width="2.82" />
<line x1="1730" y1="440" x2="1737" y2="440" stroke="#000" stroke-width="2"/>
<line x1="1730" y1="470" x2="1737" y2="470" stroke="#000" stroke-width="2"/>
<path d="M1736.4,397.6 L1790.6,396 L1802.6,403.7 L2139.1,728.1 L2150,770 L2085,806 L2043.5,780 L1817.7,679.2 L1822.2,710.8 L1813.1,725.9 L1776,725.9 Q1757,727 1749.5,746 A34.2,34.2 0 0 1 1686.4,717.8 Q1690,699 1708,691.5 L1730,686.5 Q1735.5,685 1736.4,679 Z" fill="#FF2626" stroke="#000" stroke-width="3.95" />
<polygon points="1819.3,555.1 1868.8,591.6 1874.2,584.4 1824.7,547.9" fill="#FF2626" stroke="#000" stroke-width="3.39" />
<polygon points="2009.2,697 2055.2,733 2060.8,726 2014.8,690" fill="#FF2626" stroke="#000" stroke-width="3.39" />
<circle cx="1716.2" cy="730.3" r="29" fill="#000" stroke="#000" stroke-width="2" />
<polyline points="1736.4,665.6 1793.6,665.6 1815.5,679.6" fill="none" stroke="#000" stroke-width="3.73" />
<circle cx="1716.2" cy="730.8" r="18.5" fill="#000" stroke="#fff" stroke-width="1.5" />
<circle cx="1716.2" cy="730.8" r="9.5" fill="#FFF6F0" stroke="#000" stroke-width="0" />
<polygon points="2150,772 2173,780 2008.6,1557.5 1985,1553" fill="url(#gPanel2)" stroke="#000" stroke-width="3.6" />
<polygon points="1988.5,1553 2006,1557 1985.5,1667.5 1972,1664" fill="#000" stroke="#000" stroke-width="2" />
<polygon points="1994,1562 1998.5,1563 1981,1662 1977,1661" fill="#E02020" stroke="none" stroke-width="0" />
<polygon points="1901.9,1595.5 1986,1555.4 1975,1648 1942.7,1640.7" fill="#C4C6C4" stroke="#000" stroke-width="3.6" />
<polygon points="1964.6,1566 1988,1558 1975,1648 1957,1641" fill="#C9CBC9" stroke="#000" stroke-width="3.4" />
<rect x="1958.8" y="1567.8" width="10.2" height="13.2" rx="2" fill="#f4f4f4" stroke="#000" stroke-width="3.6" />
<rect x="1944" y="1621.7" width="14.8" height="20.3" rx="2" fill="#f4f4f4" stroke="#000" stroke-width="3.6" />
<rect x="1957" y="1634" width="17" height="12" rx="0" fill="url(#gBolt)" stroke="#000" stroke-width="3.4" transform="rotate(12 1965 1640)"/>
<rect x="2143" y="918" width="9" height="14" rx="1.5" fill="url(#gBolt)" stroke="#000" stroke-width="2.5" transform="rotate(12 2147.5 925)"/>
<rect x="2111.2" y="1069" width="9" height="14" rx="1.5" fill="url(#gBolt)" stroke="#000" stroke-width="2.5" transform="rotate(12 2115.7 1076)"/>
<rect x="2106.5" y="1091" width="9" height="14" rx="1.5" fill="url(#gBolt)" stroke="#000" stroke-width="2.5" transform="rotate(12 2111 1098)"/>
<rect x="2066.8" y="1280" width="9" height="14" rx="1.5" fill="url(#gBolt)" stroke="#000" stroke-width="2.5" transform="rotate(12 2071.3 1287)"/>
<rect x="2049.1" y="1364" width="9" height="14" rx="1.5" fill="url(#gBolt)" stroke="#000" stroke-width="2.5" transform="rotate(12 2053.6 1371)"/>
<rect x="2032.5" y="1443.3" width="10" height="17" rx="1.5" fill="url(#gBolt)" stroke="#000" stroke-width="3.4" transform="rotate(12 2037.5 1451.8)"/>
<rect x="2028.2" y="1465" width="11.5" height="20" rx="1.5" fill="url(#gBolt)" stroke="#000" stroke-width="3.4" transform="rotate(12 2034 1475)"/>
<rect x="2008.2" y="1563.3" width="15" height="25" rx="1.5" fill="url(#gBolt)" stroke="#000" stroke-width="3.6" transform="rotate(12 2015.7 1575.8)"/>
<rect x="1993.5" y="1630.5" width="15" height="25" rx="1.5" fill="url(#gBolt)" stroke="#000" stroke-width="3.6" transform="rotate(12 2001 1643)"/>
<path d="M2059.5,746 A49,49 0 0 1 2154,774 L1986,1554.6 L1727.7,1676 A38,38 0 0 1 1673.8,1641.6 L1673.8,1540 Q1673.8,1528 1681,1515 L1918,1102 Q1934,1076 1941,1057.7 Z" fill="#FF2626" stroke="#000" stroke-width="3.95" />
<circle cx="1711.6" cy="1542.1" r="17.2" fill="#FFF6F0" stroke="#000" stroke-width="7.2" />
<circle cx="1711.6" cy="1640.6" r="17.2" fill="#FFF6F0" stroke="#000" stroke-width="7.2" />
<circle cx="2105.2" cy="763.5" r="29" fill="#fff" stroke="#000" stroke-width="4.52" />
<polygon points="2126.7,763.5 2115.9,782.1 2094.4,782.1 2083.7,763.5 2094.4,744.9 2115.9,744.9" fill="#FFF6F0" stroke="#000" stroke-width="3.39" />
<line x1="379.6" y1="122.3" x2="379.6" y2="409" stroke="#000" stroke-width="4.4"/>
<line x1="2173.5" y1="122" x2="2173.5" y2="718" stroke="#000" stroke-width="4.4"/>
<line x1="2173.5" y1="718" x2="2173.5" y2="778" stroke="#b0b0b0" stroke-width="3.39"/>
<line x1="379.4" y1="142.7" x2="2173.5" y2="142.7" stroke="#000" stroke-width="4.4"/>
<polygon points="379.4,142.7 445.4,131.7 435.4,142.7 445.4,153.7" fill="#000" stroke="#000" stroke-width="2.82" />
<polygon points="2173.5,142.7 2107.5,153.7 2117.5,142.7 2107.5,131.7" fill="#000" stroke="#000" stroke-width="2.82" />
<line x1="160" y1="339.8" x2="380" y2="339.8" stroke="#000" stroke-width="4.4"/>
<line x1="160" y1="2413.2" x2="1489" y2="2413.2" stroke="#000" stroke-width="4.4"/>
<line x1="180.6" y1="339.8" x2="180.6" y2="2413" stroke="#000" stroke-width="4.4"/>
<polygon points="180.6,339.8 191.6,405.8 180.6,395.8 169.6,405.8" fill="#000" stroke="#000" stroke-width="2.82" />
<polygon points="180.6,2413 169.6,2347 180.6,2357 191.6,2347" fill="#000" stroke="#000" stroke-width="2.82" />
<text id="t1" y="125.3" font-size="97.8" stroke="#fff" stroke-width="2.6"><tspan x="1065.5" textLength="158" lengthAdjust="spacingAndGlyphs">913</tspan> <tspan x="1246" textLength="83.5" lengthAdjust="spacingAndGlyphs">м</tspan><tspan x="1326" textLength="83.5" lengthAdjust="spacingAndGlyphs">м</tspan></text>
<text id="t2" transform="translate(159.8,1577) rotate(-90)" font-size="97.8" stroke="#fff" stroke-width="2.6"><tspan x="-2" textLength="36" lengthAdjust="spacingAndGlyphs">1</tspan><tspan x="38.5" textLength="161" lengthAdjust="spacingAndGlyphs">056</tspan> <tspan x="221" textLength="83.5" lengthAdjust="spacingAndGlyphs">м</tspan><tspan x="301.3" textLength="83.5" lengthAdjust="spacingAndGlyphs">м</tspan></text>
</svg>
</body></html>
